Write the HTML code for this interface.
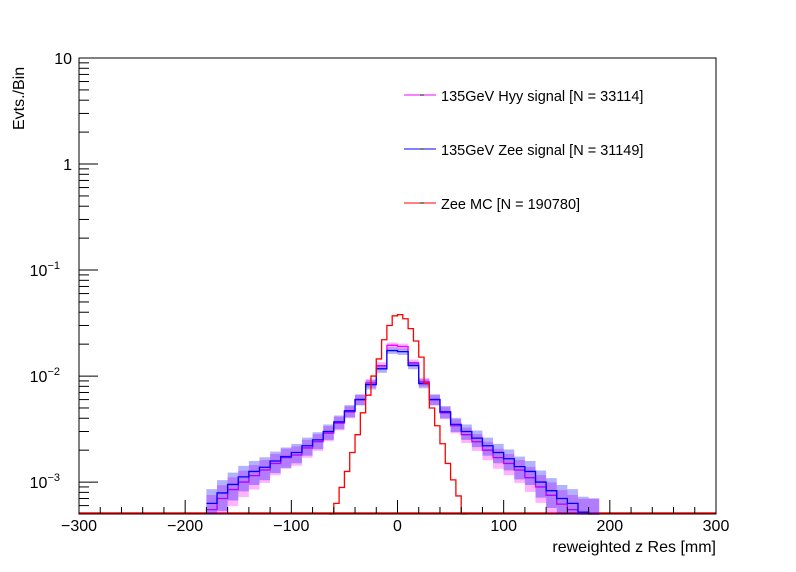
<!DOCTYPE html>
<html><head><meta charset="utf-8"><style>
body{margin:0;background:#fff}
svg{display:block;font-family:"Liberation Sans",sans-serif}
</style></head><body>
<svg id="chart" width="796" height="572" xmlns="http://www.w3.org/2000/svg">
<rect width="796" height="572" fill="#fff"/>
<g id="plot"></g>
<rect x="79" y="58" width="637" height="456" fill="none" stroke="#000" stroke-width="1"/>
<g id="axes"></g>
<text x="716" y="552" text-anchor="end" font-size="16">reweighted z Res [mm]</text>
<text transform="translate(24,130) rotate(-90)" font-size="16">Evts./Bin</text>
<g>
 <g><line x1="404" y1="95" x2="436" y2="95" stroke="#f0f"/><line x1="420" y1="95" x2="424" y2="95" stroke="#000"/><text x="441" y="101" font-size="14.5">135GeV Hyy signal [N = 33114]</text></g>
 <g><line x1="404" y1="149" x2="436" y2="149" stroke="#00f"/><line x1="420" y1="149" x2="424" y2="149" stroke="#000"/><text x="441" y="155" font-size="14.5">135GeV Zee signal [N = 31149]</text></g>
 <g><line x1="404" y1="203" x2="436" y2="203" stroke="#f00"/><line x1="420" y1="203" x2="424" y2="203" stroke="#000"/><text x="441" y="209" font-size="14.5">Zee MC [N = 190780]</text></g>
</g>
</svg>
<script>
const xTicks=[-300,-200,-100,0,100,200,300];
const yDecades=[0.001,0.01,0.1,1,10];
const yLabelsExp=["-3","-2","-1","",""];
const sigCenters=[-175,-165,-155,-145,-135,-125,-115,-105,-95,-85,-75,-65,-55,-45,-35,-25,-15,-5,5,15,25,35,45,55,65,75,85,95,105,115,125,135,145,155,165,175,185];
const blueVals=[0.00063,0.00079,0.00095,0.00112,0.00126,0.00138,0.00158,0.00174,0.0019,0.0022,0.0025,0.003,0.0037,0.0047,0.006,0.0083,0.0117,0.0174,0.017,0.0126,0.0085,0.006,0.0046,0.0035,0.003,0.0026,0.0022,0.0019,0.00166,0.0014,0.00126,0.001,0.00083,0.0007,0.00063,0.00052,0.0005];
const magVals=[0.00055,0.0007,0.00085,0.001,0.00115,0.0013,0.0015,0.0017,0.0018,0.0021,0.0024,0.0029,0.0036,0.0046,0.006,0.0086,0.0125,0.0195,0.019,0.0133,0.0088,0.006,0.0045,0.0034,0.0028,0.0024,0.002,0.0017,0.0015,0.0013,0.0011,0.0009,0.00075,0.00062,0.00055,0.0005,0.0005];
const redCenters=[-62.5,-57.5,-52.5,-47.5,-42.5,-37.5,-32.5,-27.5,-22.5,-17.5,-12.5,-7.5,-2.5,2.5,7.5,12.5,17.5,22.5,27.5,32.5,37.5,42.5,47.5,52.5,57.5,62.5];
const redVals=[0.00045,0.00063,0.00089,0.00126,0.0019,0.0028,0.0045,0.0066,0.01,0.0145,0.022,0.030,0.037,0.038,0.0347,0.028,0.0214,0.0151,0.0085,0.005,0.0034,0.0023,0.0015,0.00105,0.00074,0.0005];
const nBlue=31149, nMag=33114;

const X0=79,X1=716,Y0=514,Y1=58,yMin=0.0005,yMax=10;
const xs=v=>X0+(v+300)/600*(X1-X0);
const ys=v=>{v=Math.max(v,yMin);return Y0-(Math.log10(v)-Math.log10(yMin))/(Math.log10(yMax)-Math.log10(yMin))*(Y0-Y1);};
const NS="http://www.w3.org/2000/svg";
const plot=document.getElementById('plot'),axes=document.getElementById('axes');
function mk(tag,attrs,parent){const e=document.createElementNS(NS,tag);for(const k in attrs)e.setAttribute(k,attrs[k]);parent.appendChild(e);return e;}

function band(centers,vals,w,n,color,name){
  let d="";
  centers.forEach((c,i)=>{
    const r=1.6/Math.sqrt(Math.max(vals[i]*n,1));
    const a=xs(c-w/2),b=xs(c+w/2),yt=ys(vals[i]*(1+r)),yb=ys(vals[i]*Math.max(1-r,0.05));
    d+="M"+a+","+yt+"H"+b+"V"+yb+"H"+a+"Z";
  });
  const p=mk('path',{d:d,fill:color,'fill-opacity':0.3,stroke:'none'},plot);
  
  
}
function steps(centers,vals,w,color,name){
  let d="";
  centers.forEach((c,i)=>{const a=xs(c-w/2),b=xs(c+w/2),y=ys(vals[i]);d+=(i?"L":"M")+a+","+y+"L"+b+","+y;});
  const p=mk('path',{d:d,fill:'none',stroke:color,'stroke-width':1.3},plot);
  
  
}
const base=mk('line',{x1:X0,y1:Y0-1,x2:X1,y2:Y0-1,stroke:'#f00','stroke-width':1.5},plot);


band(sigCenters,magVals,10,nMag,'#f0f','hyy-fluctuation-band');
steps(sigCenters,magVals,10,'#f0f','series-hyy-signal');
band(sigCenters,blueVals,10,nBlue,'#00f','zee-signal-fluctuation-band');
steps(sigCenters,blueVals,10,'#00f','series-zee-signal');
steps(redCenters,redVals,5,'#f00','series-zee-mc');

for(let v=-300;v<=300;v+=20){
  const major=v%100===0;
  const t=mk('line',{x1:xs(v),y1:Y0,x2:xs(v),y2:Y0-(major?14:7),stroke:'#000'},axes);
  
  
}
xTicks.forEach(v=>{
  const t=mk('text',{x:xs(v),y:Y0+17,'text-anchor':'middle','font-size':16},axes);
  t.textContent=String(v).replace('-','\u2212');
  
  
});
for(let e=-4;e<=1;e++){
  for(let m=1;m<10;m++){
    const v=m*Math.pow(10,e);
    if(v<yMin||v>yMax)continue;
    const t=mk('line',{x1:X0,y1:ys(v),x2:X0+(m===1?19:10),y2:ys(v),stroke:'#000'},axes);
    
    
  }
}
yDecades.forEach((v,i)=>{
  const g=mk('text',{x:72,y:ys(v)+6,'text-anchor':'end','font-size':16},axes);
  
  
  if(yLabelsExp[i]===""){g.textContent=String(v);}
  else{
    g.setAttribute('x',60);
    g.textContent="10";
    const s=mk('tspan',{dy:-7,'font-size':11},g);
    s.textContent=yLabelsExp[i].replace('-','\u2212');
  }
});
</script>
</body></html>
